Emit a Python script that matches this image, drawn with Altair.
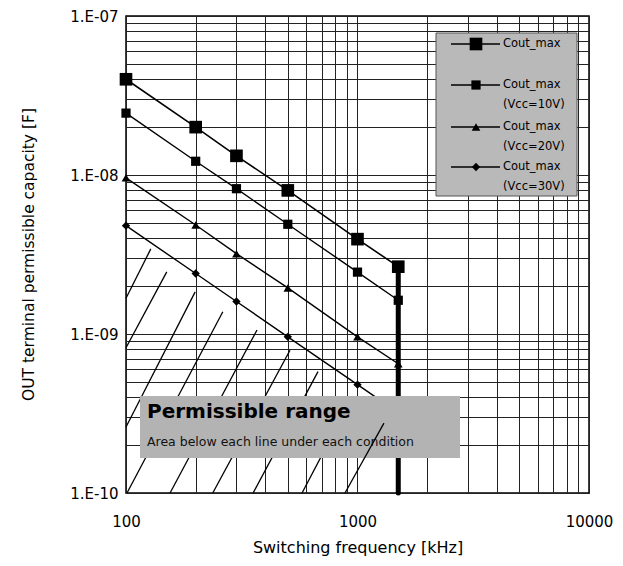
import altair as alt
import pandas as pd

# ---------------- data ----------------
freq = [100, 200, 300, 500, 1000, 1500]               # kHz
cout_max = [4.0e-8, 2.0e-8, 1.32e-8, 8.0e-9, 3.95e-9, 2.65e-9]
cout_10v = [2.45e-8, 1.22e-8, 8.2e-9, 4.9e-9, 2.45e-9, 1.63e-9]
cout_20v = [9.6e-9, 4.85e-9, 3.2e-9, 1.95e-9, 9.6e-10, 6.5e-10]
cout_30v = [4.8e-9, 2.4e-9, 1.6e-9, 9.6e-10, 4.8e-10, 3.2e-10]

limit_freq = [1500]
limit_top = [2.65e-9]
limit_bottom = [1e-10]

# hatch segments of the "permissible" region (data units)
hatch_x1 = [100, 100, 100, 101, 155, 237, 354, 576]
hatch_y1 = [1.68e-9, 8.2e-10, 2.6e-10, 1e-10, 1e-10, 1e-10, 1e-10, 1e-10]
hatch_x2 = [128, 150, 199, 262, 368, 511, 675, 937]
hatch_y2 = [3.43e-9, 2.46e-9, 1.84e-9, 1.38e-9, 1.06e-9, 7.9e-10, 5.8e-10, 3.85e-10]
hatch_top_x1 = [883]
hatch_top_y1 = [1e-10]
hatch_top_x2 = [1301]
hatch_top_y2 = [2.75e-10]

legend_lines = [["Cout_max"], ["Cout_max", "(Vcc=10V)"],
                ["Cout_max", "(Vcc=20V)"], ["Cout_max", "(Vcc=30V)"]]
box_title = "Permissible range"
box_sub = "Area below each line under each condition"

x_ticks = [m * 10 ** k for k in (2, 3) for m in range(1, 10)] + [10000]
y_ticks = [m * 10.0 ** k for k in (-10, -9, -8) for m in range(1, 10)] + [1e-7]

FONT = "DejaVu Sans"
GRID = "#222222"

x_scale = alt.Scale(type="log", domain=[100, 10000], nice=False)
y_scale = alt.Scale(type="log", domain=[1e-10, 1e-7], nice=False)

x_axis = alt.Axis(
    values=x_ticks, grid=True, gridColor=GRID, gridWidth=1, gridOpacity=1,
    ticks=False, domain=False, labelOverlap=False, labelFlush=False,
    labelExpr="indexof([100,1000,10000], datum.value) >= 0 ? format(datum.value,'d') : ''",
    labelFont=FONT, labelFontSize=15, labelColor="black", labelPadding=21,
    title="Switching frequency [kHz]", titleFont=FONT, titleFontSize=16,
    titleFontWeight="normal", titleColor="black", titlePadding=10,
)
y_axis = alt.Axis(
    values=y_ticks, grid=True, gridColor=GRID, gridWidth=1, gridOpacity=1,
    ticks=False, domain=False, labelOverlap=False, labelFlush=False,
    labelExpr=("abs(log(datum.value)/LN10 - round(log(datum.value)/LN10)) < 0.001 ? "
               "'1.E-' + (-round(log(datum.value)/LN10) < 10 ? '0' : '') + "
               "(-round(log(datum.value)/LN10)) : ''"),
    labelFont=FONT, labelFontSize=15, labelColor="black", labelPadding=8,
    title="OUT terminal permissible capacity [F]", titleFont=FONT, titleFontSize=15.5,
    titleFontWeight="normal", titleColor="black",
    titleX=-98, titleY=238, titleAngle=270, titleAlign="center", titleBaseline="middle",
)


def X(field):
    return alt.X(field, type="quantitative", scale=x_scale, axis=x_axis)


def Y(field):
    return alt.Y(field, type="quantitative", scale=y_scale, axis=y_axis)


layers = []

# hatch lines (below the box)
hatch_df = pd.DataFrame({"x1": hatch_x1, "y1": hatch_y1, "x2": hatch_x2, "y2": hatch_y2})
layers.append(alt.Chart(hatch_df).mark_rule(color="black", strokeWidth=1.3).encode(
    x=X("x1"), y=Y("y1"), x2="x2", y2="y2"))

# series
series = [
    (cout_max, "square", 160, 1.6),
    (cout_10v, "square", 85, 1.4),
    (cout_20v, "triangle-up", 75, 1.4),
    (cout_30v, "diamond", 70, 1.4),
]
for vals, shape, size, sw in series:
    df = pd.DataFrame({"f": freq, "c": vals})
    layers.append(alt.Chart(df).mark_line(color="black", strokeWidth=sw).encode(
        x=X("f"), y=Y("c")))
    layers.append(alt.Chart(df).mark_point(shape=shape, filled=True, color="black",
                                           size=size, opacity=1).encode(x=X("f"), y=Y("c")))

# thick frequency limit line
lim_df = pd.DataFrame({"f": limit_freq, "top": limit_top, "bottom": limit_bottom})
layers.append(alt.Chart(lim_df).mark_rule(color="black", strokeWidth=5, strokeCap="round").encode(
    x=X("f"), y=Y("top"), y2="bottom"))

one = alt.Data(values=[{}])

# annotation box
layers.append(alt.Chart(one).mark_rect(fill="#b3b3b3").encode(
    x=alt.value(14), x2=alt.value(334), y=alt.value(380), y2=alt.value(442)))
layers.append(alt.Chart(one).mark_text(align="left", baseline="alphabetic", font=FONT,
                                       fontSize=20, fontWeight="bold", color="black").encode(
    x=alt.value(21), y=alt.value(402), text=alt.value(box_title)))
layers.append(alt.Chart(one).mark_text(align="left", baseline="alphabetic", font=FONT,
                                       fontSize=12.5, color="#111").encode(
    x=alt.value(21), y=alt.value(430), text=alt.value(box_sub)))

# hatch line drawn over the box
top_df = pd.DataFrame({"x1": hatch_top_x1, "y1": hatch_top_y1, "x2": hatch_top_x2, "y2": hatch_top_y2})
layers.append(alt.Chart(top_df).mark_rule(color="black", strokeWidth=1.3).encode(
    x=X("x1"), y=Y("y1"), x2="x2", y2="y2"))

# legend
layers.append(alt.Chart(one).mark_rect(fill="#b9b9b9", stroke="#555555", strokeWidth=1).encode(
    x=alt.value(310), x2=alt.value(451), y=alt.value(17), y2=alt.value(180)))
row_y = [28, 69, 111, 151]
for (lines, (vals, shape, size, sw)), ry in zip(zip(legend_lines, series), row_y):
    layers.append(alt.Chart(one).mark_rule(color="black", strokeWidth=sw).encode(
        x=alt.value(325), x2=alt.value(374), y=alt.value(ry)))
    layers.append(alt.Chart(one).mark_point(shape=shape, filled=True, color="black",
                                            size=size, opacity=1).encode(
        x=alt.value(350), y=alt.value(ry)))
    for i, t in enumerate(lines):
        layers.append(alt.Chart(one).mark_text(align="left", baseline="middle", font=FONT,
                                               fontSize=11.5, color="black").encode(
            x=alt.value(377), y=alt.value(ry + 20 * i), text=alt.value(t)))

chart = alt.layer(*layers).properties(
    width=463, height=477,
    autosize=alt.AutoSizeParams(type="none"),
    padding={"left": 118, "top": 8, "right": 26, "bottom": 65},
).configure_view(stroke="black", strokeWidth=1.5)

chart.save("out.html", embed_options={"renderer": "svg", "actions": False})
